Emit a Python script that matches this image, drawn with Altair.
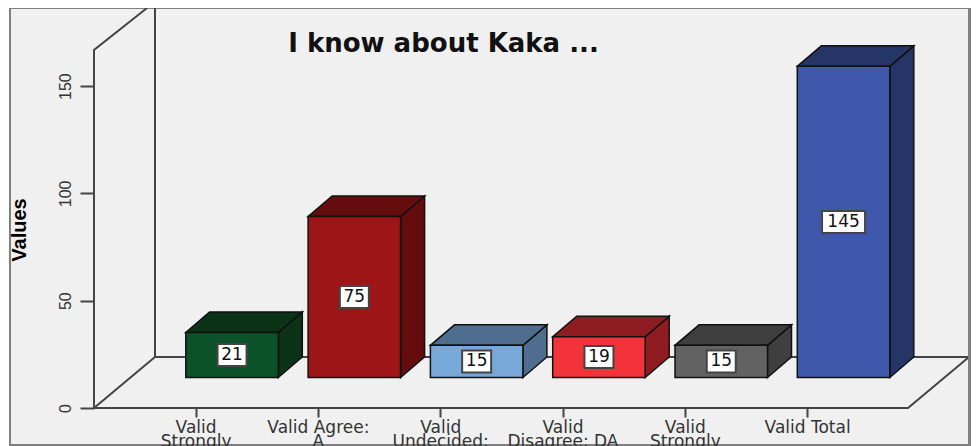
import altair as alt
import pandas as pd

# ---- values ----
categories = ["Valid|Strongly", "Valid Agree:|A", "Valid|Undecided:", "Valid|Disagree: DA", "Valid|Strongly", "Valid Total"]
values = [21, 75, 15, 19, 15, 145]
front_colors = ["#0b5229", "#9e1517", "#78a8d8", "#f3333a", "#626262", "#3f58ab"]
shade_colors = ["#0a3318", "#640c0e", "#4f6e8f", "#8f1c20", "#3f3f3f", "#263568"]
y_ticks = [0, 50, 100, 150]
title_text = "I know about Kaka ..."
axis_title = "Values"

# ---- layout (page px -> scale units) ----
PY = 2.146
PX_X = 122.3
TICK0 = 195.6
Y0 = 408
def X(px): return (px - TICK0) / PX_X
def Y(px): return (Y0 - px) / PY
PLOT_L, PLOT_T, PLOT_R = 94, 8, 971
W, H = PLOT_R - PLOT_L, Y0 - PLOT_T

xs = alt.Scale(domain=[X(PLOT_L), X(PLOT_R)], zero=False, nice=False)
ys = alt.Scale(domain=[0, Y(PLOT_T)], zero=False, nice=False)

BASE = Y(377.5)
BAR_W = 92.5 / PX_X
OFF = (185.8 - TICK0) / PX_X
DX, DY = 24 / PX_X, 20.5 / PY

front, side, top, lab = [], [], [], []
for i, (v, fc, sc) in enumerate(zip(values, front_colors, shade_colors)):
    l, r = i + OFF, i + OFF + BAR_W
    t = BASE + v
    front.append(dict(x=l, x2=r, y=BASE, y2=t, c=fc))
    side += [dict(b=i, x=r, y=BASE, y2=t, c=sc), dict(b=i, x=r + DX, y=BASE + DY, y2=t + DY, c=sc)]
    top += [dict(b=i, y=t, x=l, x2=r, c=sc), dict(b=i, y=t + DY, x=l + DX, x2=r + DX, c=sc)]
    cx, cy = (l + r) / 2, BASE + v / 2
    half = (7.5 * len(str(v)) - 0.5 + 0) if False else (14.5 if v < 100 else 21.5)
    lab.append(dict(x=cx - half / PX_X, x2=cx + half / PX_X, y=cy - 11 / PY, y2=cy + 11 / PY, cx=cx, cy=cy, t=str(v)))

# walls / floor
pts = []
def poly(name, p):
    for k, (a, b) in enumerate(p):
        pts.append(dict(s=name, o=k, x=X(a), y=Y(b)))
poly("left", [(94, 408), (94, 50), (147, 8)])
poly("back", [(155, 8), (155, 357), (969, 357)])
poly("diag", [(94, 408), (155, 357)])
poly("front", [(94, 408), (908, 408), (969, 357)])

x_enc = alt.X("x:Q", scale=xs)
y_enc = alt.Y("y:Q", scale=ys)

frame = alt.Chart(alt.Data(values=[{"a": 1}])).mark_rect(fill="#f0f0f0", stroke="#808080", strokeWidth=2).encode(
    x=alt.value(10 - PLOT_L), x2=alt.value(W + 5),
    y=alt.value(0), y2=alt.value(445 - PLOT_T))
rwall = alt.Chart(alt.Data(values=[{"a": 1}])).mark_rule(color="#808080", strokeWidth=3).encode(
    x=alt.value(969.5 - PLOT_L), y=alt.value(0), y2=alt.value(445 - PLOT_T))

walls = alt.Chart(pd.DataFrame(pts)).mark_line(color="#444444", strokeWidth=2).encode(
    x=x_enc, y=y_enc, detail="s:N", order="o:Q")

axes = alt.Chart(pd.DataFrame({"x": list(range(6)), "y": [0] * 6})).mark_point(opacity=0).encode(
    x=alt.X("x:Q", scale=xs, axis=alt.Axis(
        values=list(range(6)), title=None, domain=False, grid=False, zindex=1,
        tickSize=9, tickWidth=2, tickColor="#444444", labelPadding=2,
        labelFont="DejaVu Sans", labelFontSize=17, labelColor="#333333", labelLineHeight=14,
        labelOverlap=False, labelFlush=False, labelBound=False,
        labelExpr="split(" + str(categories) + "[datum.value], '|')")),
    y=alt.Y("y:Q", scale=ys, axis=alt.Axis(
        values=y_ticks, title=axis_title, domain=False, grid=False, zindex=1,
        tickSize=14, tickWidth=2, tickColor="#444444", labelPadding=7, labelAngle=-90,
        labelAlign="center", labelBaseline="bottom",
        labelFont="Liberation Sans", labelFontSize=16, labelColor="#333333",
        titleFont="Liberation Sans", titleFontSize=20, titleFontWeight="bold", titleColor="#000000",
        titleAnchor="middle", titleX=-65, titleY=H - (408 - 229.5), titleAlign="center", labelOverlap=False)))

c_enc = alt.Color("c:N", scale=None)
stroke = dict(stroke="#111111", strokeWidth=1.5)
side_l = alt.Chart(pd.DataFrame(side)).mark_area(orient="vertical", **stroke).encode(
    x=x_enc, y=y_enc, y2="y2:Q", detail="b:N", color=c_enc)
top_l = alt.Chart(pd.DataFrame(top)).mark_area(orient="horizontal", **stroke).encode(
    y=y_enc, x=x_enc, x2="x2:Q", detail="b:N", color=c_enc)
front_l = alt.Chart(pd.DataFrame(front)).mark_rect(**stroke).encode(
    x=x_enc, x2="x2:Q", y=y_enc, y2="y2:Q", color=c_enc)

boxes = alt.Chart(pd.DataFrame(lab)).mark_rect(fill="white", stroke="#444444", strokeWidth=2).encode(
    x=x_enc, x2="x2:Q", y=y_enc, y2="y2:Q")
texts = alt.Chart(pd.DataFrame(lab)).mark_text(font="DejaVu Sans", fontSize=17, color="#111111").encode(
    x=alt.X("cx:Q", scale=xs), y=alt.Y("cy:Q", scale=ys), text="t:N")
title = alt.Chart(alt.Data(values=[{"t": title_text}])).mark_text(
    font="DejaVu Sans", fontSize=26, fontWeight="bold", color="#111111", align="center", baseline="middle"
).encode(x=alt.value(443.5 - PLOT_L), y=alt.value(44 - PLOT_T), text="t:N")

chart = alt.layer(frame, axes, walls, rwall, side_l, top_l, front_l, boxes, texts, title).properties(
    width=W, height=H,
    padding={"left": PLOT_L - 8, "top": 0, "right": 0, "bottom": 446 - 8 - H},
    autosize=alt.AutoSizeParams(type="none"),
    background="white",
).configure_view(stroke=None)

chart.save("out.html", embed_options={"renderer": "svg", "actions": False})
